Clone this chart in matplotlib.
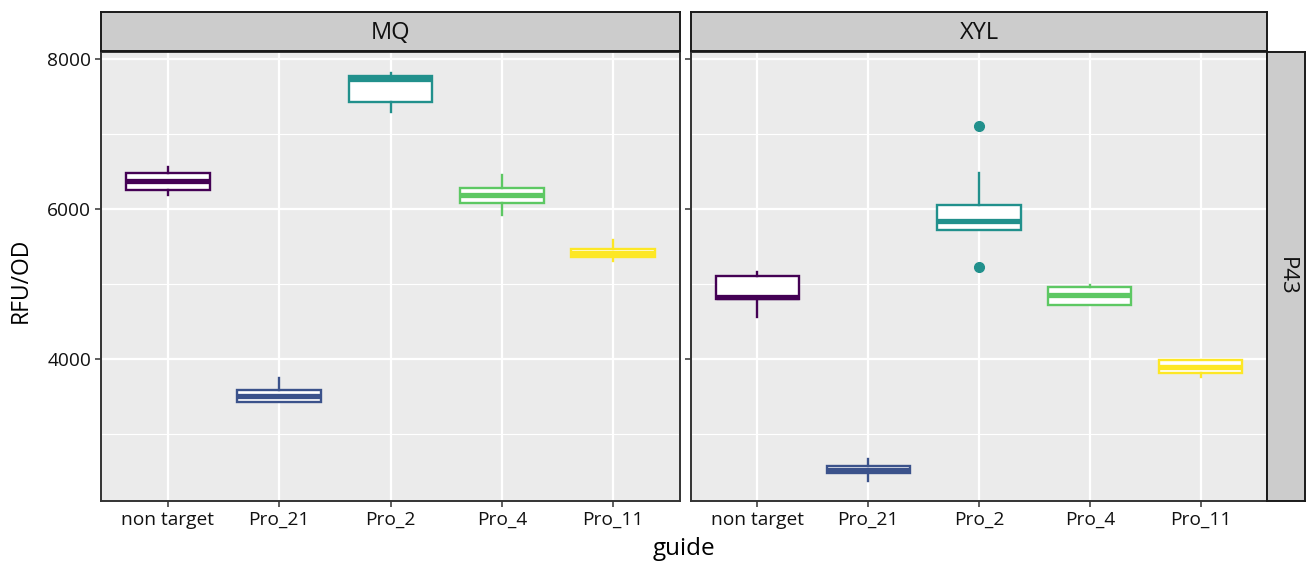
import matplotlib
matplotlib.use("Agg")
import matplotlib.pyplot as plt

plt.rcParams['font.family'] = ['Open Sans', 'DejaVu Sans']

guides = ["non target", "Pro_21", "Pro_2", "Pro_4", "Pro_11"]
colors = ["#440154", "#3B528B", "#21908C", "#5DC863", "#FDE725"]
panels = ["MQ", "XYL"]
row_label = "P43"

# five-number summaries per guide: whislo, q1, median, q3, whishi
mq_whislo = [6187, 3430, 7298, 5920, 5311]
mq_q1     = [6249, 3431, 7431, 6076, 5364]
mq_med    = [6378, 3507, 7733, 6182, 5418]
mq_q3     = [6476, 3587, 7778, 6284, 5471]
mq_whishi = [6564, 3743, 7818, 6454, 5587]
mq_fliers = [[], [], [], [], []]

xyl_whislo = [4564, 2373, 5720, 4720, 3756]
xyl_q1     = [4796, 2476, 5720, 4724, 3809]
xyl_med    = [4822, 2524, 5844, 4853, 3898]
xyl_q3     = [5107, 2578, 6053, 4960, 3987]
xyl_whishi = [5165, 2662, 6476, 4982, 3987]
xyl_fliers = [[], [], [7107, 5231], [], []]

data = {
    "MQ": (mq_whislo, mq_q1, mq_med, mq_q3, mq_whishi, mq_fliers),
    "XYL": (xyl_whislo, xyl_q1, xyl_med, xyl_q3, xyl_whishi, xyl_fliers),
}

W, H = 1312, 565
fig = plt.figure(figsize=(W / 100, H / 100), dpi=100)

def fx(px):
    return px / W

def fy(py):
    return 1 - py / H

panel_top, panel_bot = 52, 501
panel_x = [(101, 680), (691, 1267)]
strip_top = 12

border = "#333333"
ylim = (2107, 8093)

for i, (name, (x0, x1)) in enumerate(zip(panels, panel_x)):
    ax = fig.add_axes([fx(x0), fy(panel_bot), fx(x1 - x0), (panel_bot - panel_top) / H])
    ax.set_facecolor("#EBEBEB")

    whislo, q1, med, q3, whishi, fliers = data[name]
    for j in range(len(guides)):
        st = [dict(whislo=whislo[j], q1=q1[j], med=med[j], q3=q3[j],
                   whishi=whishi[j], fliers=fliers[j])]
        c = colors[j]
        ax.bxp(st, positions=[j], widths=0.75, patch_artist=True, showcaps=False,
               manage_ticks=False,
               boxprops=dict(facecolor="white", edgecolor=c, linewidth=1.7),
               whiskerprops=dict(color=c, linewidth=1.7),
               medianprops=dict(color=c, linewidth=3.8, solid_capstyle="butt"),
               flierprops=dict(marker="o", markerfacecolor=c, markeredgecolor=c,
                               markersize=7),
               zorder=3)

    ax.set_xlim(-0.6, 4.6)
    ax.set_ylim(*ylim)
    ax.set_yticks([4000, 6000, 8000])
    ax.set_yticks([3000, 5000, 7000], minor=True)
    ax.set_xticks(range(len(guides)))
    ax.set_xticklabels(guides)
    ax.grid(True, which="major", color="white", linewidth=1.6)
    ax.grid(True, which="minor", axis="y", color="white", linewidth=0.8)
    ax.set_axisbelow(True)
    for s in ax.spines.values():
        s.set_color(border)
        s.set_linewidth(1.4)
    ax.tick_params(axis="both", which="major", length=4, width=1.1, color=border,
                   labelsize=13.8, labelcolor="#111111", pad=3)
    ax.tick_params(axis="both", which="minor", length=0)
    if i > 0:
        ax.tick_params(axis="y", labelleft=False)

    # facet strip on top
    sax = fig.add_axes([fx(x0), fy(panel_top - 1), fx(x1 - x0), (panel_top - 1 - strip_top) / H])
    sax.set_xticks([]); sax.set_yticks([])
    sax.set_facecolor("#CCCCCC")
    for s in sax.spines.values():
        s.set_color("#1a1a1a")
        s.set_linewidth(1.4)
    sax.text(0.5, 0.45, name, ha="center", va="center", fontsize=17, color="#111111",
             transform=sax.transAxes)

# row strip on the right
rax = fig.add_axes([fx(1267), fy(panel_bot), fx(1305 - 1267), (panel_bot - panel_top) / H])
rax.set_xticks([]); rax.set_yticks([])
rax.set_facecolor("#CCCCCC")
for s in rax.spines.values():
    s.set_color("#1a1a1a")
    s.set_linewidth(1.4)
rax.text(0.5, 0.5, row_label, ha="center", va="center", rotation=-90, fontsize=16,
         color="#111111", transform=rax.transAxes)

fig.text(fx(684), fy(549), "guide", ha="center", va="center", fontsize=17.5, color="black")
fig.text(fx(21), fy(280), "RFU/OD", ha="center", va="center", rotation=90, fontsize=16.5,
         color="black")

fig.savefig("out.png", dpi=100, facecolor="white")
